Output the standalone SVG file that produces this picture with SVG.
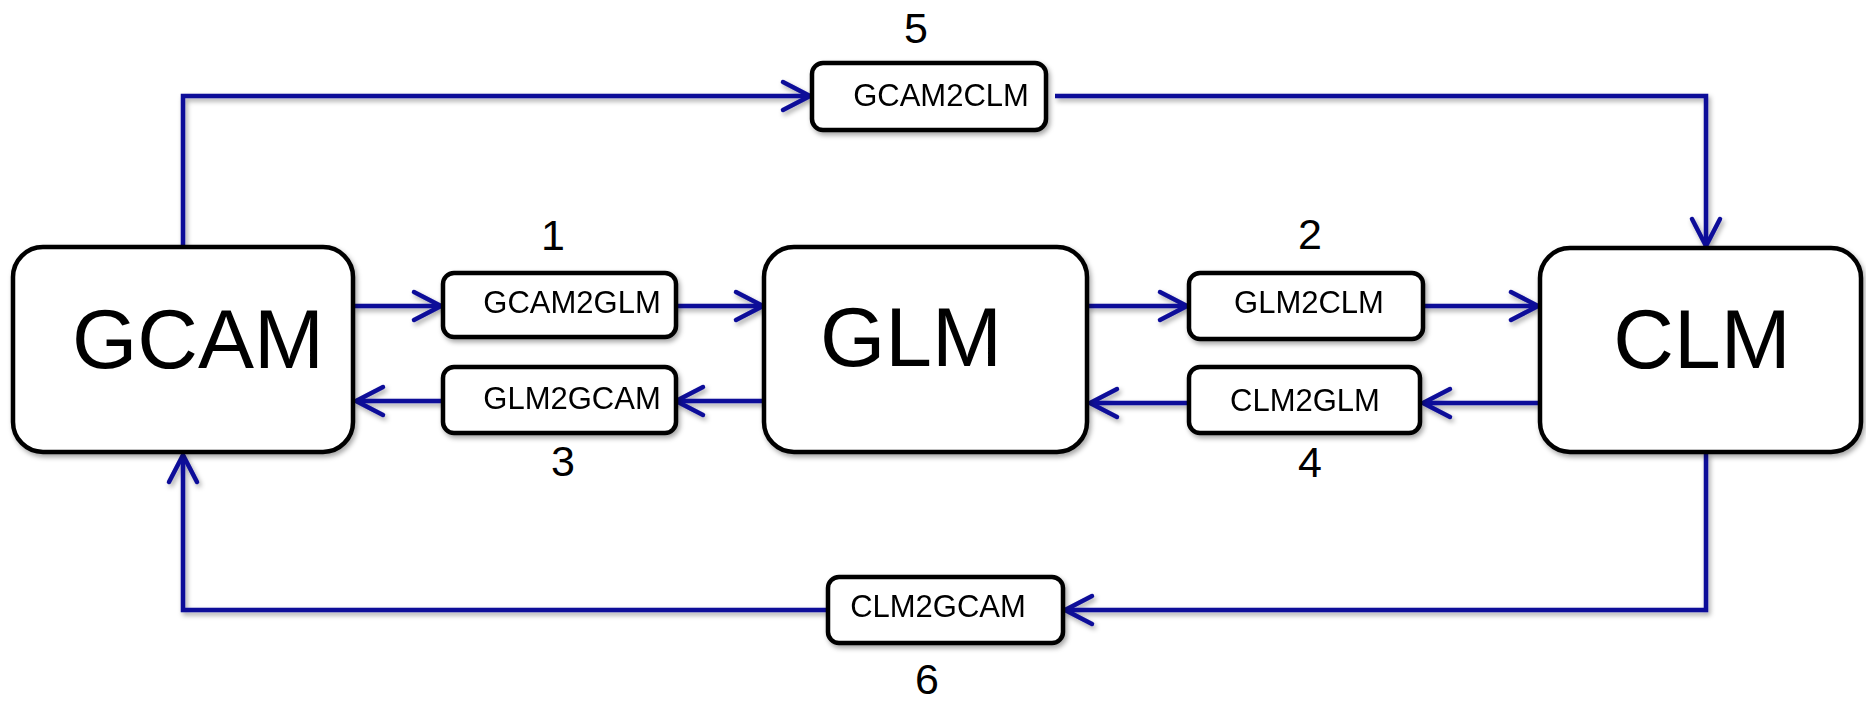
<svg xmlns="http://www.w3.org/2000/svg" width="1866" height="701" viewBox="0 0 1866 701">
  <defs>
    <filter id="shadow" x="-10%" y="-10%" width="120%" height="130%">
      <feDropShadow dx="2" dy="3" stdDeviation="2.5" flood-color="#000" flood-opacity="0.35"/>
    </filter>
    <marker id="chevron" markerUnits="userSpaceOnUse" markerWidth="40" markerHeight="40" refX="0" refY="0" orient="auto" overflow="visible">
      <path d="M -27 -14 L 0 0 L -27 14" fill="none" stroke="#0b0b99" stroke-width="4.5" stroke-linecap="round" stroke-linejoin="round"/>
    </marker>
  </defs>
  <style>
    .big { fill: #fff; stroke: #000; stroke-width: 4.5; }
    .small { fill: #fff; stroke: #000; stroke-width: 4.5; }
    .bigtxt { font-family: "Liberation Sans", Arial, sans-serif; font-size: 84px; fill: #000; text-anchor: middle; }
    .smalltxt { font-family: "Liberation Sans", Arial, sans-serif; font-size: 31px; fill: #000; text-anchor: middle; }
    .num { font-family: "Liberation Sans", Arial, sans-serif; font-size: 43px; fill: #000; text-anchor: middle; }
    .link { fill: none; stroke: #0b0b99; stroke-width: 4.5; stroke-linejoin: miter; }
    .arrow { marker-end: url(#chevron); }
  </style>

  <rect width="1866" height="701" fill="#fff"/>

  <!-- connectors -->
  <g id="connectors" filter="url(#shadow)">
    <!-- outer loop: GCAM -> GCAM2CLM -> CLM -->
    <path class="link arrow" d="M 183 247 L 183 96 L 810 96"/>
    <path class="link arrow" d="M 1055 96 L 1706 96 L 1706 246"/>
    <!-- outer loop: CLM -> CLM2GCAM -> GCAM -->
    <path class="link arrow" d="M 1706 453 L 1706 610 L 1065 610"/>
    <path class="link arrow" d="M 828 610 L 183 610 L 183 455"/>
    <!-- GCAM <-> GLM -->
    <path class="link arrow" d="M 353 306 L 441 306"/>
    <path class="link arrow" d="M 670 306 L 763 306"/>
    <path class="link arrow" d="M 764 401 L 676 401"/>
    <path class="link arrow" d="M 453 401 L 356 401"/>
    <!-- GLM <-> CLM -->
    <path class="link arrow" d="M 1087 306 L 1187 306"/>
    <path class="link arrow" d="M 1423 306 L 1538 306"/>
    <path class="link arrow" d="M 1540 403 L 1423 403"/>
    <path class="link arrow" d="M 1199 403 L 1090 403"/>
  </g>

  <!-- main models -->
  <g id="gcam" filter="url(#shadow)">
    <rect class="big" x="13" y="247" width="340" height="205" rx="30"/>
    <text class="bigtxt" x="198" y="368">GCAM</text>
  </g>
  <g id="glm" filter="url(#shadow)">
    <rect class="big" x="764" y="247" width="323" height="205" rx="30"/>
    <text class="bigtxt" x="911" y="366">GLM</text>
  </g>
  <g id="clm" filter="url(#shadow)">
    <rect class="big" x="1540" y="248" width="321" height="204" rx="30"/>
    <text class="bigtxt" x="1702" y="368">CLM</text>
  </g>

  <!-- coupling steps -->
  <g id="gcam2glm" filter="url(#shadow)">
    <rect class="small" x="443" y="273" width="233" height="64" rx="11"/>
    <text class="smalltxt" x="572" y="313">GCAM2GLM</text>
  </g>
  <g id="glm2gcam" filter="url(#shadow)">
    <rect class="small" x="443" y="367" width="233" height="66" rx="11"/>
    <text class="smalltxt" x="572" y="409">GLM2GCAM</text>
  </g>
  <g id="glm2clm" filter="url(#shadow)">
    <rect class="small" x="1189" y="273" width="234" height="66" rx="11"/>
    <text class="smalltxt" x="1309" y="313">GLM2CLM</text>
  </g>
  <g id="clm2glm" filter="url(#shadow)">
    <rect class="small" x="1189" y="367" width="231" height="66" rx="11"/>
    <text class="smalltxt" x="1305" y="411">CLM2GLM</text>
  </g>
  <g id="gcam2clm" filter="url(#shadow)">
    <rect class="small" x="812" y="63" width="234" height="67" rx="11"/>
    <text class="smalltxt" x="941" y="106">GCAM2CLM</text>
  </g>
  <g id="clm2gcam" filter="url(#shadow)">
    <rect class="small" x="828" y="577" width="235" height="66" rx="11"/>
    <text class="smalltxt" x="938" y="617">CLM2GCAM</text>
  </g>

  <!-- step numbers -->
  <g id="step-numbers">
    <text class="num" x="553" y="250">1</text>
    <text class="num" x="1310" y="249">2</text>
    <text class="num" x="563" y="476">3</text>
    <text class="num" x="1310" y="477">4</text>
    <text class="num" x="916" y="43">5</text>
    <text class="num" x="927" y="694">6</text>
  </g>
</svg>
